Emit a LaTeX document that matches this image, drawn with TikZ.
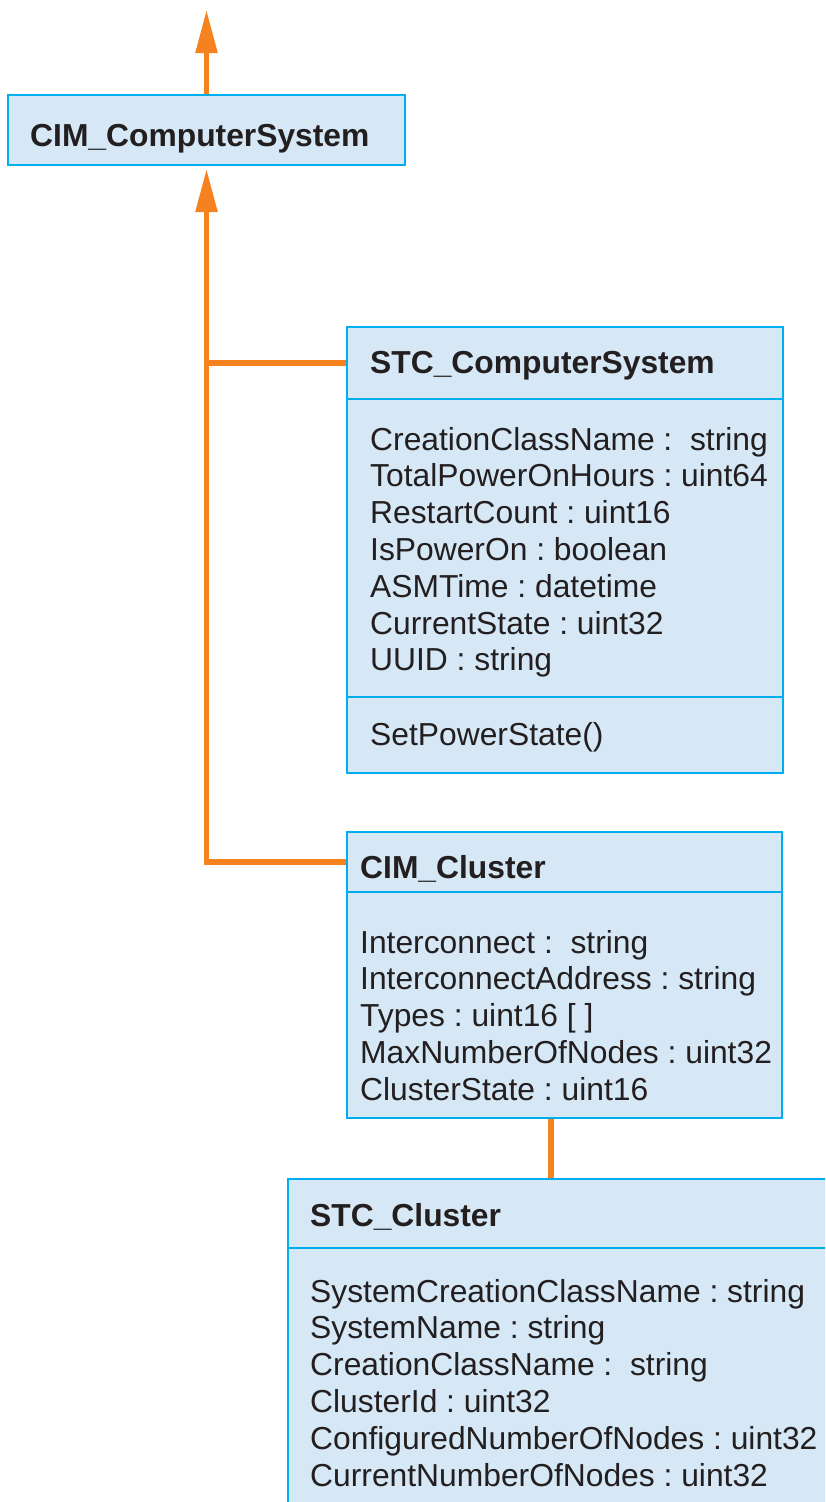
\documentclass[tikz,border=0pt]{standalone}
\usepackage{fontspec}
\setmainfont{Liberation Sans}
\frenchspacing
\usetikzlibrary{arrows.meta,backgrounds}
\definecolor{umlfill}{HTML}{D6E8F5}
\definecolor{umledge}{HTML}{00AEEF}
\definecolor{umlink}{HTML}{F5821F}
\definecolor{umltext}{HTML}{231F20}

\begin{document}
\begin{tikzpicture}[x=1pt,y=-1pt,
  comp/.style={draw=umledge, fill=umlfill, line width=2.8pt, inner sep=0pt,
               outer sep=0pt, anchor=north west},
  title/.style={font=\fontsize{31.8}{36.8}\selectfont\bfseries, text=umltext,
                inner sep=0pt, anchor=base west},
  attr/.style={font=\fontsize{31.8}{36.8}\selectfont, text=umltext,
               inner sep=0pt, anchor=base west},
  link/.style={draw=umlink, line width=5.5pt},
  inherit/.style={link, -{Triangle[length=43pt,width=21pt]}},
]
\useasboundingbox (0,0) rectangle (825,1502);
\clip (0,0) rectangle (825,1502);

% CIM_ComputerSystem
\node[comp, minimum width=397pt, minimum height=70pt] (cimcs) at (8,95) {};
\node[title] (cimcsT) at (30,146.5) {CIM\_ComputerSystem};

% STC_ComputerSystem: name, attributes, operations
\node[comp, minimum width=436pt, minimum height=72pt]  (stcH) at (347,327) {};
\node[comp, minimum width=436pt, minimum height=298pt] (stcA) at (347,399) {};
\node[comp, minimum width=436pt, minimum height=76pt]  (stcM) at (347,697) {};
\node[title] (stcT) at (370,373) {STC\_ComputerSystem};
\foreach \t [count=\i] in {CreationClassName : \ string,
    TotalPowerOnHours : uint64, RestartCount : uint16, IsPowerOn : boolean,
    ASMTime : datetime, CurrentState : uint32, UUID : string}
  \node[attr] (stcA\i) at (370,{450+36.8*(\i-1)}) {\t};
\node[attr] (stcM1) at (370,745) {SetPowerState()};

% CIM_Cluster
\node[comp, minimum width=435pt, minimum height=60pt]  (cimclH) at (347,832) {};
\node[comp, minimum width=435pt, minimum height=226pt] (cimclA) at (347,892) {};
\node[title] (cimclT) at (360,878) {CIM\_Cluster};
\foreach \t [count=\i] in {Interconnect : \ string,
    InterconnectAddress : string, Types : uint16 [\ ],
    MaxNumberOfNodes : uint32, ClusterState : uint16}
  \node[attr] (cimclA\i) at (360,{953+36.9*(\i-1)}) {\t};

% STC_Cluster (continues past the page edge)
\node[comp, minimum width=600pt, minimum height=69pt]  (stclH) at (288,1179) {};
\node[comp, minimum width=600pt, minimum height=400pt] (stclA) at (288,1248) {};
\node[title] (stclT) at (310,1226) {STC\_Cluster};
\foreach \t [count=\i] in {SystemCreationClassName : string,
    SystemName : string, CreationClassName : \ string, ClusterId : uint32,
    ConfiguredNumberOfNodes : uint32, CurrentNumberOfNodes : uint32}
  \node[attr] (stclA\i) at (310,{1302+36.8*(\i-1)}) {\t};

% connectors
\coordinate (apex) at (206.5,10);
\coordinate (drop) at (551,0);
\begin{scope}[on background layer]
  \draw[inherit] (cimcs.north) -- (apex);
  \draw[inherit, shorten >=4pt] (cimclH.west) -| (cimcs.south);
  \draw[link] (stcH.west) -- (stcH.west -| cimcs.south);
  \draw[link] (cimclA.south -| drop) -- (stclH.north -| drop);
\end{scope}
\end{tikzpicture}
\end{document}
